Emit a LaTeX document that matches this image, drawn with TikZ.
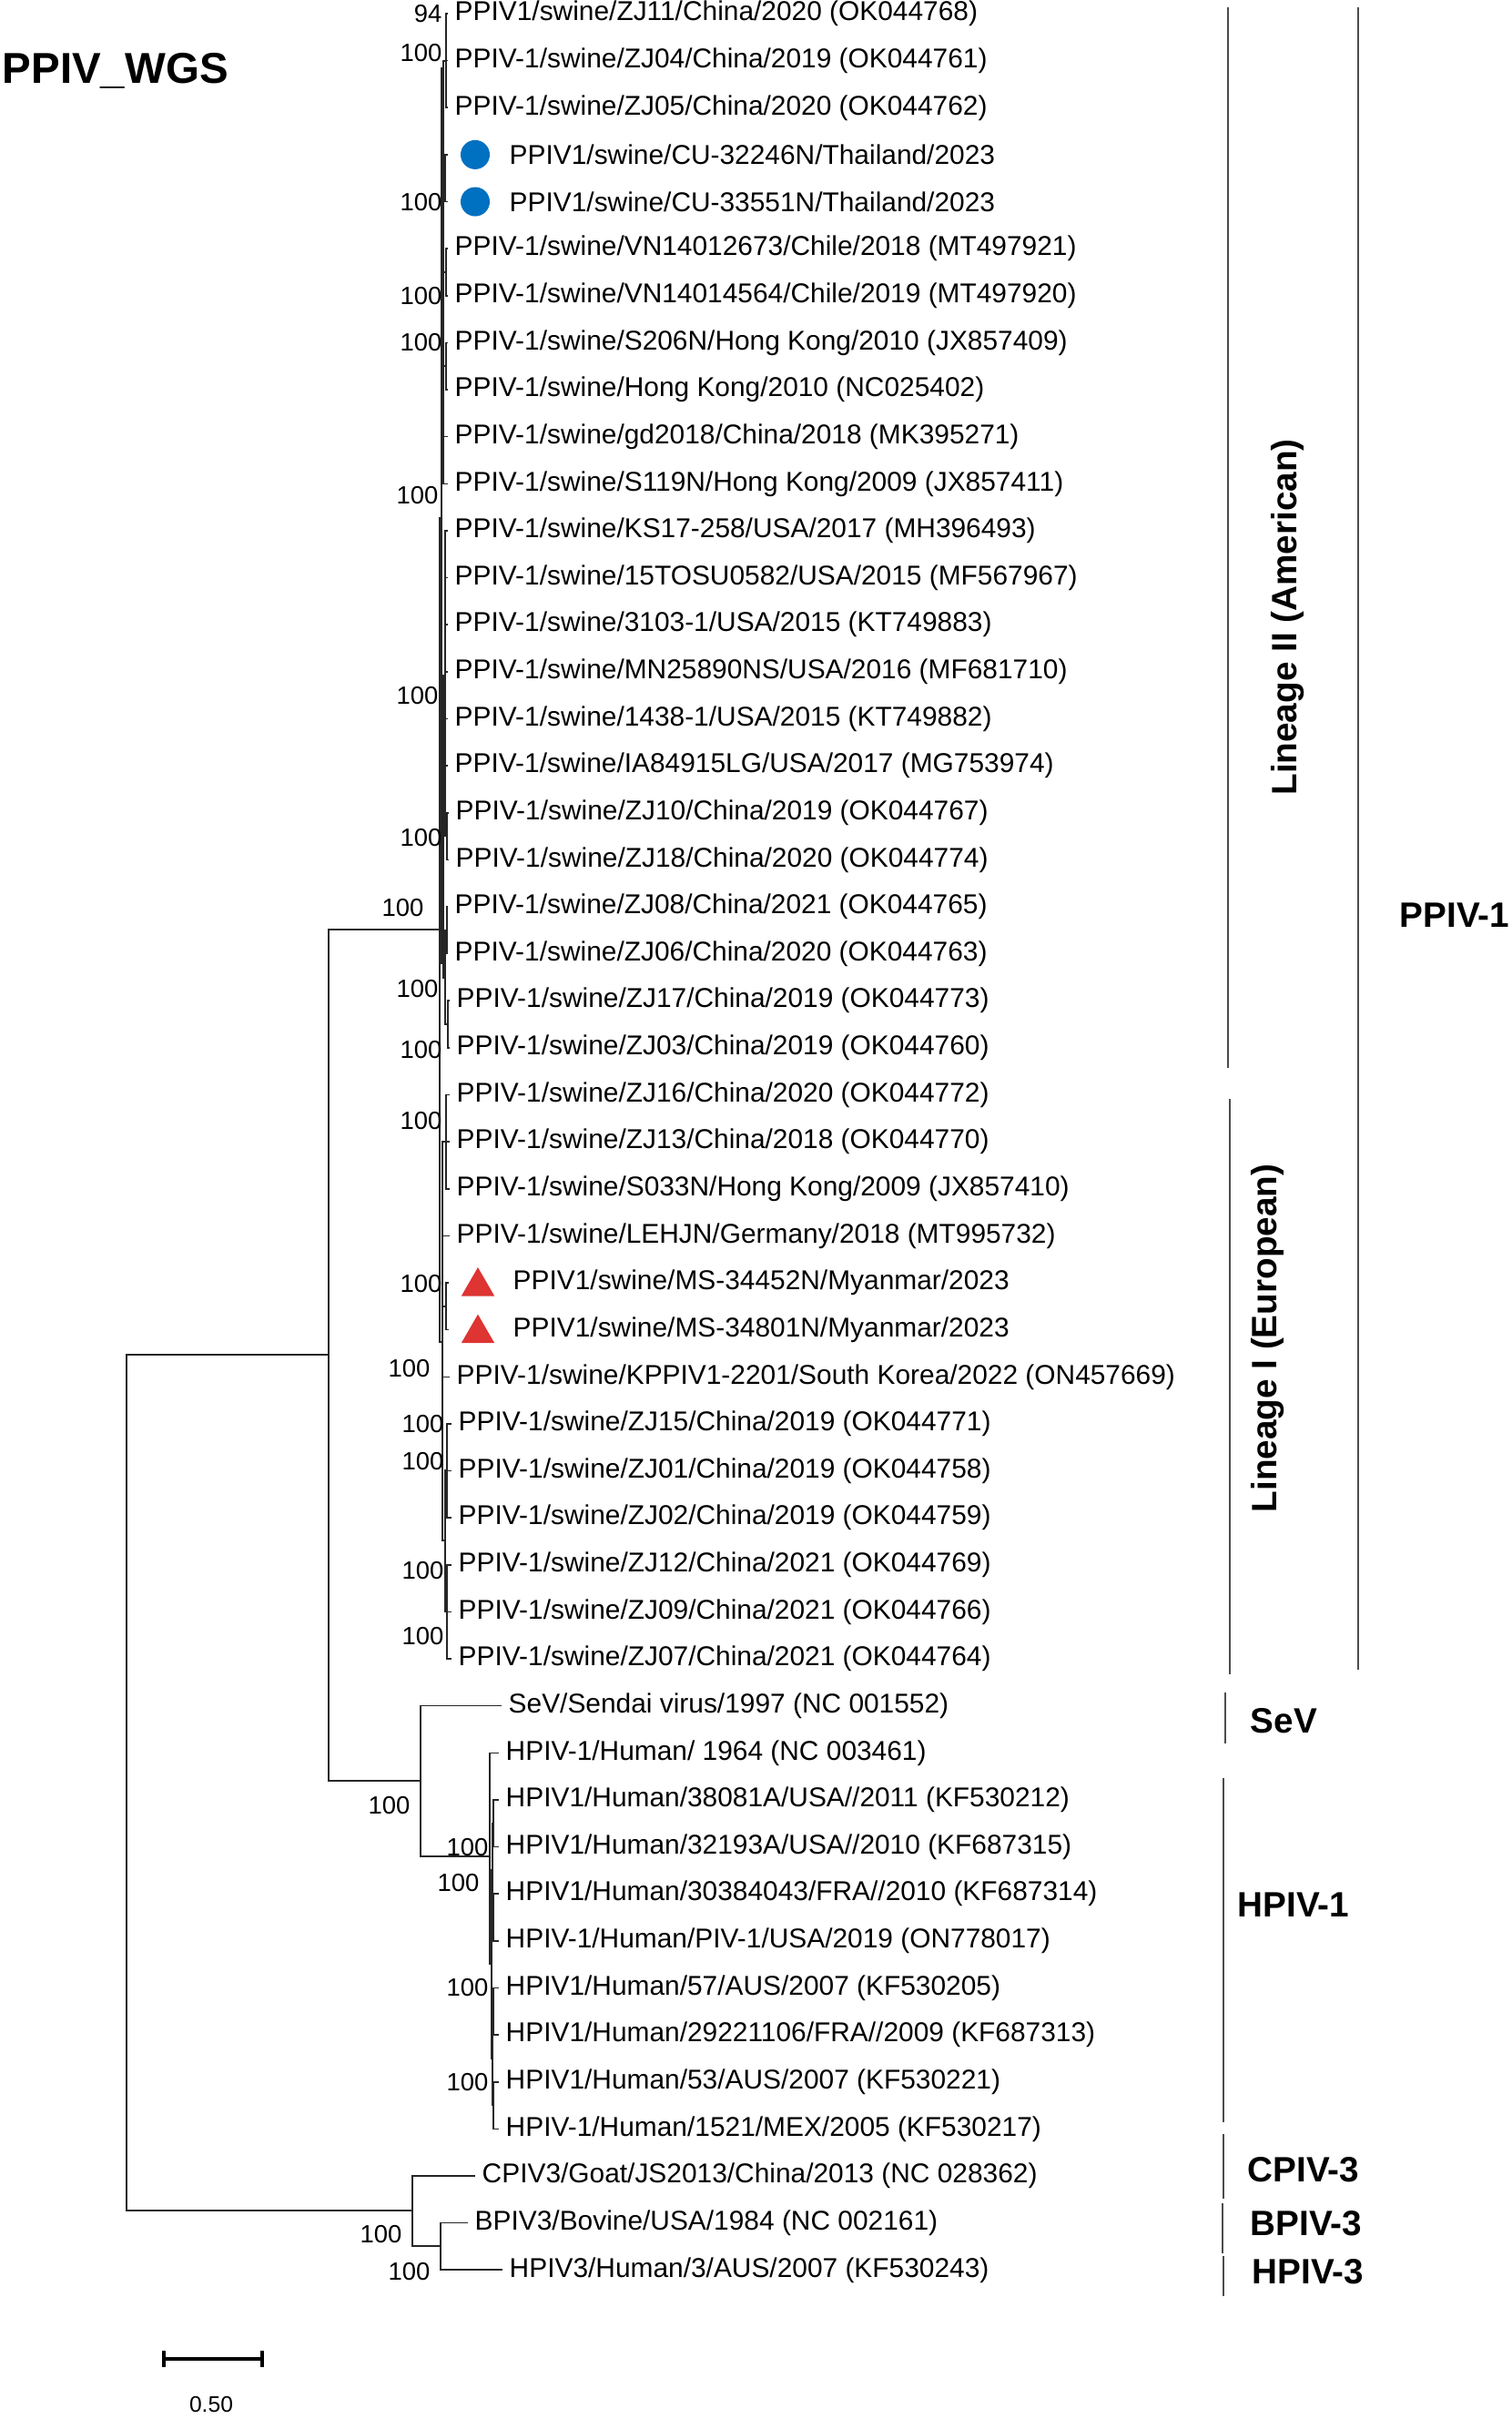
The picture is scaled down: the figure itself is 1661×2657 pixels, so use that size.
\documentclass[tikz,border=0pt]{standalone}
\usepackage{fontspec}
\setmainfont{Liberation Sans}
\usetikzlibrary{shapes.geometric}
\newcommand{\rowh}{51.63}
\definecolor{thaiblue}{RGB}{0,112,192}
\definecolor{myanred}{RGB}{222,52,50}
\tikzset{
  branch/.style={draw=black!85, line width=0.45pt, to path={|- (\tikztotarget)}},
  tip/.style={anchor=west, inner sep=2pt, font=\fontsize{8.5}{10}\selectfont},
  boot/.style={anchor=east, inner sep=0pt, font=\fontsize{7.8}{9}\selectfont},
  clade/.style={anchor=west, inner sep=0pt, font=\bfseries\fontsize{11}{13}\selectfont},
  lineage/.style={rotate=90, inner sep=0pt, font=\bfseries\fontsize{11}{13}\selectfont},
  bar/.style={draw=black!70, line width=0.6pt},
  thai/.style={circle, fill=thaiblue, minimum size=0.32cm, inner sep=0pt},
  myan/.style={regular polygon, regular polygon sides=3, fill=myanred, minimum size=0.42cm, inner sep=0pt},
}

\begin{document}
\begin{tikzpicture}[x=0.01cm, y=-0.01cm]
        \useasboundingbox (0,0) rectangle (1661,2657);
        \node[anchor=west, inner sep=0pt, font=\bfseries\fontsize{13.5}{16}\selectfont] (title) at (2, 78) {PPIV\_WGS};

        %inner nodes
        \coordinate (R) at (139, 1957);
        \coordinate (U) at (361, 1488);
        \coordinate (P) at (483, 1021);
        \coordinate (L2) at (485, 569);
        \coordinate (nA) at (487, 75);
        \coordinate (nA1) at (490, 67);
        \coordinate (nA2) at (489, 196);
        \coordinate (nA3) at (490, 299);
        \coordinate (nA4) at (490, 402);
        \coordinate (nB) at (487, 1058);
        \coordinate (nB1) at (489, 742);
        \coordinate (nB11) at (491, 918);
        \coordinate (nB2) at (489, 1074);
        \coordinate (nB21) at (491, 1022);
        \coordinate (nB22) at (492, 1125);
        \coordinate (L1) at (486, 1474);
        \coordinate (nC1) at (490, 1254);
        \coordinate (nC2) at (490, 1435);
        \coordinate (nD) at (489, 1692);
        \coordinate (nD1) at (491, 1615);
        \coordinate (nD2) at (491, 1770);
        \coordinate (S) at (462, 1956);
        \coordinate (H) at (538, 2039);
        \coordinate (H2) at (540, 2157);
        \coordinate (H21) at (541, 2054);
        \coordinate (H211) at (542, 2003);
        \coordinate (H212) at (542, 2106);
        \coordinate (H22) at (541, 2261);
        \coordinate (H221) at (542, 2209);
        \coordinate (H222) at (542, 2312);
        \coordinate (O) at (453, 2428);
        \coordinate (BH) at (484, 2467);

        %lineage II
        \node[tip] (t0) at (492, 15+\rowh*0) {PPIV1/swine/ZJ11/China/2020 (OK044768)};
        \node[tip] (t1) at (492, 15+\rowh*1) {PPIV-1/swine/ZJ04/China/2019 (OK044761)};
        \node[tip] (t2) at (492, 15+\rowh*2) {PPIV-1/swine/ZJ05/China/2020 (OK044762)};
        \coordinate (e3) at (492, 15+\rowh*3);
        \coordinate (e4) at (492, 15+\rowh*4);
        \node[thai] (m3) at (522, 15+\rowh*3) {};
        \node[thai] (m4) at (522, 15+\rowh*4) {};
        \node[tip] (t3) at (552, 15+\rowh*3) {PPIV1/swine/CU-32246N/Thailand/2023};
        \node[tip] (t4) at (552, 15+\rowh*4) {PPIV1/swine/CU-33551N/Thailand/2023};
        \node[tip] (t5) at (492, 15+\rowh*5) {PPIV-1/swine/VN14012673/Chile/2018 (MT497921)};
        \node[tip] (t6) at (492, 15+\rowh*6) {PPIV-1/swine/VN14014564/Chile/2019 (MT497920)};
        \node[tip] (t7) at (492, 15+\rowh*7) {PPIV-1/swine/S206N/Hong Kong/2010 (JX857409)};
        \node[tip] (t8) at (492, 15+\rowh*8) {PPIV-1/swine/Hong Kong/2010 (NC025402)};
        \node[tip] (t9) at (492, 15+\rowh*9) {PPIV-1/swine/gd2018/China/2018 (MK395271)};
        \node[tip] (t10) at (492, 15+\rowh*10) {PPIV-1/swine/S119N/Hong Kong/2009 (JX857411)};
        \node[tip] (t11) at (492, 15+\rowh*11) {PPIV-1/swine/KS17-258/USA/2017 (MH396493)};
        \node[tip] (t12) at (492, 15+\rowh*12) {PPIV-1/swine/15TOSU0582/USA/2015 (MF567967)};
        \node[tip] (t13) at (492, 15+\rowh*13) {PPIV-1/swine/3103-1/USA/2015 (KT749883)};
        \node[tip] (t14) at (492, 15+\rowh*14) {PPIV-1/swine/MN25890NS/USA/2016 (MF681710)};
        \node[tip] (t15) at (492, 15+\rowh*15) {PPIV-1/swine/1438-1/USA/2015 (KT749882)};
        \node[tip] (t16) at (492, 15+\rowh*16) {PPIV-1/swine/IA84915LG/USA/2017 (MG753974)};
        \node[tip] (t17) at (493, 15+\rowh*17) {PPIV-1/swine/ZJ10/China/2019 (OK044767)};
        \node[tip] (t18) at (493, 15+\rowh*18) {PPIV-1/swine/ZJ18/China/2020 (OK044774)};
        \node[tip] (t19) at (492, 15+\rowh*19) {PPIV-1/swine/ZJ08/China/2021 (OK044765)};
        \node[tip] (t20) at (492, 15+\rowh*20) {PPIV-1/swine/ZJ06/China/2020 (OK044763)};
        \node[tip] (t21) at (494, 15+\rowh*21) {PPIV-1/swine/ZJ17/China/2019 (OK044773)};
        \node[tip] (t22) at (494, 15+\rowh*22) {PPIV-1/swine/ZJ03/China/2019 (OK044760)};

        %lineage I
        \node[tip] (t23) at (494, 15+\rowh*23) {PPIV-1/swine/ZJ16/China/2020 (OK044772)};
        \node[tip] (t24) at (494, 15+\rowh*24) {PPIV-1/swine/ZJ13/China/2018 (OK044770)};
        \node[tip] (t25) at (494, 15+\rowh*25) {PPIV-1/swine/S033N/Hong Kong/2009 (JX857410)};
        \node[tip] (t26) at (494, 15+\rowh*26) {PPIV-1/swine/LEHJN/Germany/2018 (MT995732)};
        \coordinate (e27) at (493, 15+\rowh*27);
        \coordinate (e28) at (493, 15+\rowh*28);
        \node[myan] (m27) at (525, 19+\rowh*27) {};
        \node[myan] (m28) at (525, 19+\rowh*28) {};
        \node[tip] (t27) at (556, 15+\rowh*27) {PPIV1/swine/MS-34452N/Myanmar/2023};
        \node[tip] (t28) at (556, 15+\rowh*28) {PPIV1/swine/MS-34801N/Myanmar/2023};
        \node[tip] (t29) at (494, 15+\rowh*29) {PPIV-1/swine/KPPIV1-2201/South Korea/2022 (ON457669)};
        \node[tip] (t30) at (496, 15+\rowh*30) {PPIV-1/swine/ZJ15/China/2019 (OK044771)};
        \node[tip] (t31) at (496, 15+\rowh*31) {PPIV-1/swine/ZJ01/China/2019 (OK044758)};
        \node[tip] (t32) at (496, 15+\rowh*32) {PPIV-1/swine/ZJ02/China/2019 (OK044759)};
        \node[tip] (t33) at (496, 15+\rowh*33) {PPIV-1/swine/ZJ12/China/2021 (OK044769)};
        \node[tip] (t34) at (496, 15+\rowh*34) {PPIV-1/swine/ZJ09/China/2021 (OK044766)};
        \node[tip] (t35) at (496, 15+\rowh*35) {PPIV-1/swine/ZJ07/China/2021 (OK044764)};

        %SeV, HPIV-1 and the outgroup
        \node[tip] (t36) at (551, 15+\rowh*36) {SeV/Sendai virus/1997 (NC 001552)};
        \node[tip] (t37) at (548, 15+\rowh*37) {HPIV-1/Human/ 1964 (NC 003461)};
        \node[tip] (t38) at (548, 15+\rowh*38) {HPIV1/Human/38081A/USA//2011 (KF530212)};
        \node[tip] (t39) at (548, 15+\rowh*39) {HPIV1/Human/32193A/USA//2010 (KF687315)};
        \node[tip] (t40) at (548, 15+\rowh*40) {HPIV1/Human/30384043/FRA//2010 (KF687314)};
        \node[tip] (t41) at (548, 15+\rowh*41) {HPIV-1/Human/PIV-1/USA/2019 (ON778017)};
        \node[tip] (t42) at (548, 15+\rowh*42) {HPIV1/Human/57/AUS/2007 (KF530205)};
        \node[tip] (t43) at (548, 15+\rowh*43) {HPIV1/Human/29221106/FRA//2009 (KF687313)};
        \node[tip] (t44) at (548, 15+\rowh*44) {HPIV1/Human/53/AUS/2007 (KF530221)};
        \node[tip] (t45) at (548, 15+\rowh*45) {HPIV-1/Human/1521/MEX/2005 (KF530217)};
        \node[tip] (t46) at (522, 15+\rowh*46) {CPIV3/Goat/JS2013/China/2013 (NC 028362)};
        \node[tip] (t47) at (514, 15+\rowh*47) {BPIV3/Bovine/USA/1984 (NC 002161)};
        \node[tip] (t48) at (552, 15+\rowh*48) {HPIV3/Human/3/AUS/2007 (KF530243)};

        %backbone
        \path (R) edge[branch] (U) (R) edge[branch] (O);
        \path (U) edge[branch] (P) (U) edge[branch] (S);
        \path (P) edge[branch] (L2) (P) edge[branch] (L1);
        \path (L2) edge[branch] (nA) (L2) edge[branch] (nB);

        %clade of lineage II
        \path (nA) edge[branch] (nA1) (nA) edge[branch] (nA2) (nA) edge[branch] (nA3) (nA) edge[branch] (nA4);
        \path (nA) edge[branch] (t9.west) (nA) edge[branch] (t10.west);
        \path (nA1) edge[branch] (t0.west) (nA1) edge[branch] (t1.west) (nA1) edge[branch] (t2.west);
        \path (nA2) edge[branch] (e3) (nA2) edge[branch] (e4);
        \path (nA3) edge[branch] (t5.west) (nA3) edge[branch] (t6.west);
        \path (nA4) edge[branch] (t7.west) (nA4) edge[branch] (t8.west);
        \path (nB) edge[branch] (nB1) (nB) edge[branch] (nB2);
        \path (nB1) edge[branch] (t11.west) (nB1) edge[branch] (t12.west) (nB1) edge[branch] (t13.west);
        \path (nB1) edge[branch] (t14.west) (nB1) edge[branch] (t15.west) (nB1) edge[branch] (t16.west);
        \path (nB1) edge[branch] (nB11);
        \path (nB11) edge[branch] (t17.west) (nB11) edge[branch] (t18.west);
        \path (nB2) edge[branch] (nB21) (nB2) edge[branch] (nB22);
        \path (nB21) edge[branch] (t19.west) (nB21) edge[branch] (t20.west);
        \path (nB22) edge[branch] (t21.west) (nB22) edge[branch] (t22.west);

        %clade of lineage I
        \path (L1) edge[branch] (nC1) (L1) edge[branch] (t26.west) (L1) edge[branch] (nC2);
        \path (L1) edge[branch] (t29.west) (L1) edge[branch] (nD);
        \path (nC1) edge[branch] (t23.west) (nC1) edge[branch] (t24.west) (nC1) edge[branch] (t25.west);
        \path (nC2) edge[branch] (e27) (nC2) edge[branch] (e28);
        \path (nD) edge[branch] (nD1) (nD) edge[branch] (nD2);
        \path (nD1) edge[branch] (t30.west) (nD1) edge[branch] (t31.west) (nD1) edge[branch] (t32.west);
        \path (nD2) edge[branch] (t33.west) (nD2) edge[branch] (t34.west) (nD2) edge[branch] (t35.west);

        %SeV and HPIV-1
        \path (S) edge[branch] (t36.west) (S) edge[branch] (H);
        \path (H) edge[branch] (t37.west) (H) edge[branch] (H2);
        \path (H2) edge[branch] (H21) (H2) edge[branch] (H22);
        \path (H21) edge[branch] (H211) (H21) edge[branch] (H212);
        \path (H211) edge[branch] (t38.west) (H211) edge[branch] (t39.west);
        \path (H212) edge[branch] (t40.west) (H212) edge[branch] (t41.west);
        \path (H22) edge[branch] (H221) (H22) edge[branch] (H222);
        \path (H221) edge[branch] (t42.west) (H221) edge[branch] (t43.west);
        \path (H222) edge[branch] (t44.west) (H222) edge[branch] (t45.west);

        %PIV-3 outgroup
        \path (O) edge[branch] (t46.west) (O) edge[branch] (BH);
        \path (BH) edge[branch] (t47.west) (BH) edge[branch] (t48.west);

        %bootstrap values
        \node[boot] (b1) at (486, 15) {94};
        \node[boot] (b2) at (486, 58) {100};
        \node[boot] (b3) at (486, 222) {100};
        \node[boot] (b4) at (486, 325) {100};
        \node[boot] (b5) at (486, 376) {100};
        \node[boot] (b6) at (482, 544) {100};
        \node[boot] (b7) at (482, 764) {100};
        \node[boot] (b8) at (486, 920) {100};
        \node[boot] (b9) at (466, 997) {100};
        \node[boot] (b10) at (482, 1086) {100};
        \node[boot] (b11) at (486, 1153) {100};
        \node[boot] (b12) at (486, 1231) {100};
        \node[boot] (b13) at (486, 1410) {100};
        \node[boot] (b14) at (473, 1503) {100};
        \node[boot] (b15) at (488, 1564) {100};
        \node[boot] (b16) at (488, 1605) {100};
        \node[boot] (b17) at (488, 1725) {100};
        \node[boot] (b18) at (488, 1797) {100};
        \node[boot] (b19) at (451, 1983) {100};
        \node[boot] (b20) at (537, 2029) {100};
        \node[boot] (b21) at (527, 2068) {100};
        \node[boot] (b22) at (537, 2183) {100};
        \node[boot] (b23) at (537, 2287) {100};
        \node[boot] (b24) at (442, 2454) {100};
        \node[boot] (b25) at (473, 2495) {100};

        %clade bars and names
        \draw[bar] (1349, 8) -- (1349, 1173);
        \draw[bar] (1351, 1207) -- (1351, 1839);
        \draw[bar] (1492, 8) -- (1492, 1834);
        \draw[bar] (1346, 1859) -- (1346, 1915);
        \draw[bar] (1344, 1953) -- (1344, 2331);
        \draw[bar] (1344, 2344) -- (1344, 2415);
        \draw[bar] (1343, 2420) -- (1343, 2475);
        \draw[bar] (1344, 2478) -- (1344, 2522);
        \node[lineage] (lam) at (1415, 678) {Lineage II (American)};
        \node[lineage] (leu) at (1393, 1470) {Lineage I (European)};
        \node[clade] (cppiv) at (1537, 1005) {PPIV-1};
        \node[clade] (csev) at (1373, 1890) {SeV};
        \node[clade] (chpiv1) at (1359, 2092) {HPIV-1};
        \node[clade] (ccpiv) at (1370, 2383) {CPIV-3};
        \node[clade] (cbpiv) at (1373, 2442) {BPIV-3};
        \node[clade] (chpiv3) at (1375, 2495) {HPIV-3};

        %scale
        \coordinate (sb1) at (180, 2591);
        \coordinate (sb2) at (288, 2591);
        \draw[line width=1pt] (sb1) -- (sb2);
        \draw[line width=1pt] ([yshift=0.09cm]sb1) -- ([yshift=-0.09cm]sb1);
        \draw[line width=1pt] ([yshift=0.09cm]sb2) -- ([yshift=-0.09cm]sb2);
        \node[font=\fontsize{7}{8}\selectfont, inner sep=0pt] (sblabel) at (232, 2641) {0.50};
\end{tikzpicture}
\end{document}
